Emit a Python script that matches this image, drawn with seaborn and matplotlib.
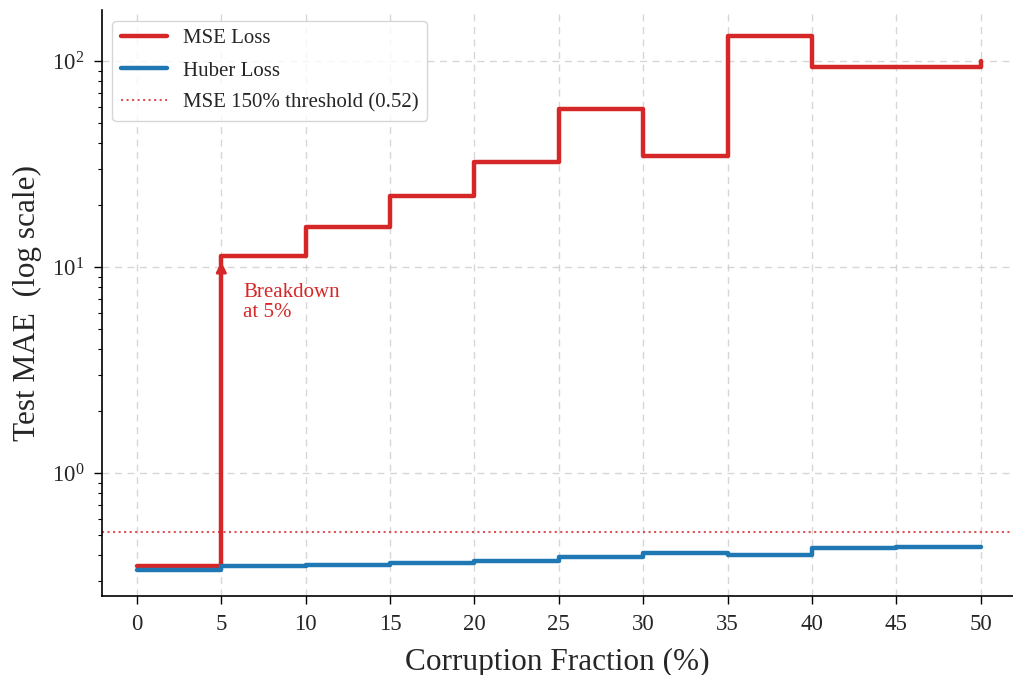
import matplotlib
matplotlib.use("Agg")
import matplotlib.pyplot as plt
import seaborn as sns

# corruption fraction (%) and test MAE for each loss
fractions = [0, 5, 10, 15, 20, 25, 30, 35, 40, 45, 50]
mse_mae = [0.355, 11.3, 15.6, 22.1, 32.3, 58.5, 34.6, 132, 93.5, 93.5, 100]
huber_mae = [0.340, 0.355, 0.358, 0.367, 0.373, 0.391, 0.410, 0.401, 0.434, 0.440, 0.440]
threshold = 0.52

red = "#d62728"
blue = "#1f77b4"

sns.set_style("ticks")
plt.rcParams["font.family"] = ["Liberation Serif", "DejaVu Serif"]
plt.rcParams["mathtext.fontset"] = "stix"

fig = plt.figure(figsize=(10.13, 6.75), dpi=100)
ax = fig.add_axes([0.1007, 0.117, 0.899, 0.868])

sns.lineplot(x=fractions, y=mse_mae, drawstyle="steps-post", color=red,
             linewidth=3.2, label="MSE Loss", ax=ax)
sns.lineplot(x=fractions, y=huber_mae, drawstyle="steps-post", color=blue,
             linewidth=3.2, label="Huber Loss", ax=ax)
ax.axhline(threshold, color=red, linestyle=":", linewidth=1.5, alpha=0.8,
           label=f"MSE 150% threshold ({threshold:.2f})")

ax.set_yscale("log")
ax.set_xlim(-2.07, 51.9)
ax.set_ylim(0.253, 177)
ax.set_xticks(fractions)

# breakdown marker
ax.annotate("", xy=(fractions[1], mse_mae[1] * 0.97), xytext=(fractions[1], mse_mae[0]),
            arrowprops=dict(arrowstyle="-|>", color=red, lw=2, mutation_scale=15))
ax.text(6.3, 8.4, "Breakdown\nat 5%", color=red, fontsize=15, va="top", ha="left",
        linespacing=1.1)

ax.grid(True, which="major", linestyle=(0, (5, 4)), color="#cccccc", linewidth=1, alpha=0.8)
ax.set_xlabel("Corruption Fraction (%)", fontsize=22.5, labelpad=9)
ax.set_ylabel("Test MAE  (log scale)", fontsize=22.5, labelpad=7)
ax.tick_params(axis="both", which="major", labelsize=16.5, length=5.5, width=1,
               color="black", pad=7.5)
ax.tick_params(axis="y", which="minor", length=3, width=0.8, color="black")
for s in ["left", "bottom"]:
    ax.spines[s].set_color("black")
    ax.spines[s].set_linewidth(1.2)
sns.despine(ax=ax)

ax.legend(loc="upper left", fontsize=15, frameon=True, fancybox=True,
          edgecolor="#cccccc", handlelength=2.2, labelspacing=0.6)

fig.savefig("out.png", dpi=100)
